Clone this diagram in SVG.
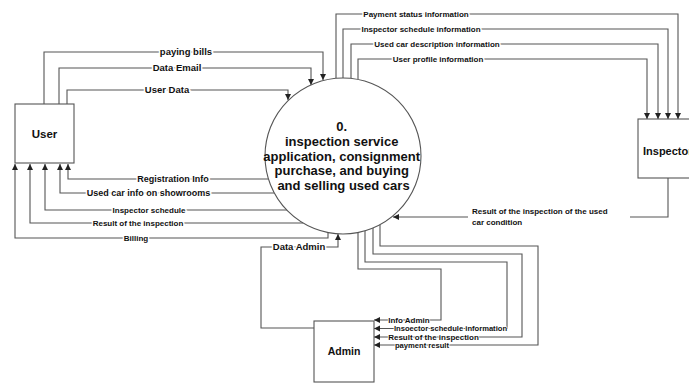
<svg xmlns="http://www.w3.org/2000/svg" width="689" height="383" viewBox="0 0 689 383">
<defs>
<marker id="arr" markerUnits="userSpaceOnUse" markerWidth="8" markerHeight="8" refX="6" refY="3" orient="auto">
<path d="M0,0 L6,3 L0,6 Z" fill="#222"/>
</marker>
<style>
.c{fill:none;stroke:#555;stroke-width:1.1;marker-end:url(#arr)}
.n{fill:#fff;stroke:#555;stroke-width:1.1}
text{font-family:"Liberation Sans",Arial,sans-serif;font-weight:bold;fill:#111}
.l{text-anchor:middle;stroke:#fff;stroke-width:3;paint-order:stroke}
.a{text-anchor:middle;stroke:#fff;stroke-width:1.5;paint-order:stroke}
.s75{font-size:7.6px}
.s8{font-size:8px}
.s9{font-size:9px}
.s95{font-size:9.5px}
</style>
</defs>
<rect width="689" height="383" fill="#fff"/>
<g id="connectors">
<path class="c" d="M44,104 V52 H323 V80"/>
<path class="c" d="M59,104 V68 H311 V85"/>
<path class="c" d="M67,104 V90 H288 V100"/>
<path class="c" d="M336,78 V14 H678 V119"/>
<path class="c" d="M343,78 V29 H668 V119"/>
<path class="c" d="M351,78 V44 H658 V119"/>
<path class="c" d="M358,79.5 V59 H647 V119"/>
<path class="c" d="M268,179 H68 V164"/>
<path class="c" d="M274,193 H60 V164"/>
<path class="c" d="M287,210 H45 V164"/>
<path class="c" d="M303,223 H30 V164"/>
<path class="c" d="M328,232.5 V238 H15 V164"/>
<path class="c" d="M314,328 H261 V247 H338 V234"/>
<path class="c" d="M358,232.5 V269 H441 V320 H374"/>
<path class="c" d="M365,231 V262 H507 V328.5 H374"/>
<path class="c" d="M373,228 V254 H522 V337 H374"/>
<path class="c" d="M380,225 V246 H538 V345 H374"/>
<path class="c" d="M668,178 V217 H393"/>
<text class="l s95" x="186" y="55.4">paying bills</text>
<text class="l s95" x="177" y="71.4">Data Email</text>
<text class="l s95" x="167" y="93.4">User Data</text>
<text class="l s8" x="416" y="17">Payment status information</text>
<text class="l s8" x="421" y="32">Inspector schedule information</text>
<text class="l s8" x="437" y="47">Used car description information</text>
<text class="l s8" x="438" y="62">User profile information</text>
<text class="l s9" x="173" y="182.2">Registration Info</text>
<text class="l s9" x="148.5" y="196.2">Used car info on showrooms</text>
<text class="l s8" x="149" y="213">Inspector schedule</text>
<text class="l s8" x="138" y="226">Result of the inspection</text>
<text class="l s8" x="136" y="241">Billing</text>
<text class="l s95" x="299" y="250.4">Data Admin</text>
<text class="a s8" x="409" y="322.8">Info Admin</text>
<text class="a s75" x="450.5" y="331.2">Insoector schedule information</text>
<text class="a s8" x="433.5" y="339.8">Result of the inspection</text>
<text class="a s75" x="422" y="347.8">payment result</text>
<rect x="468" y="205" width="162" height="22" fill="#fff"/>
<text class="s8" x="472" y="214">Result of the inspection of the used</text>
<text class="s8" x="472" y="225">car condition</text>
</g>
<g id="user">
<rect class="n" x="15" y="104" width="59" height="59"/>
<text x="44.5" y="137.5" font-size="11.5" text-anchor="middle">User</text>
</g>
<g id="process">
<circle class="n" cx="343" cy="156" r="78"/>
<text font-size="13" text-anchor="middle">
<tspan x="343.5" y="130.5">0.</tspan>
<tspan x="343.5" y="145.5">inspection service</tspan>
<tspan x="343.5" y="160.5">application, consignment</tspan>
<tspan x="343.5" y="175">purchase, and buying</tspan>
<tspan x="343.5" y="189.5">and selling used cars</tspan>
</text>
</g>
<g id="inspector">
<rect class="n" x="638" y="119" width="62" height="59"/>
<text x="643" y="155" font-size="11">Inspector</text>
</g>
<g id="admin">
<rect class="n" x="314" y="321" width="60" height="61"/>
<text x="344" y="355" font-size="10.5" text-anchor="middle">Admin</text>
</g>
</svg>
